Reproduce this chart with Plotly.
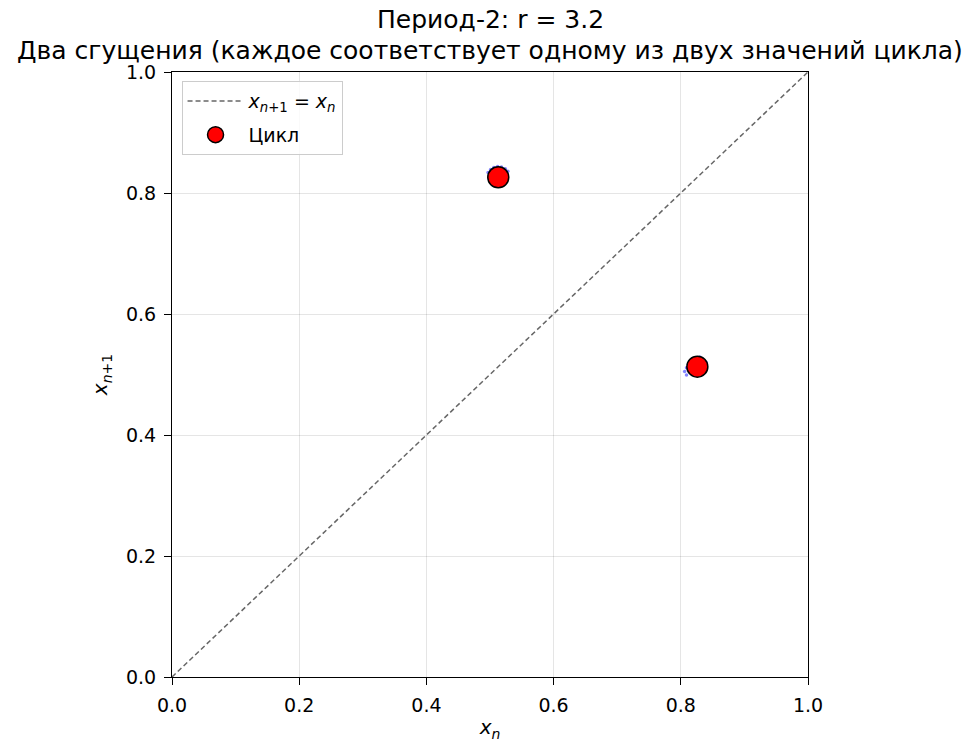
import plotly.graph_objects as go

cycle_x = [0.513, 0.826]
cycle_y = [0.826, 0.513]
# faint blue trajectory points around the two clusters
traj_x = [0.497, 0.501, 0.506, 0.512, 0.518, 0.524, 0.528, 0.513, 0.520,
          0.806, 0.809, 0.812, 0.818, 0.824, 0.830, 0.809, 0.826, 0.840]
traj_y = [0.834, 0.839, 0.842, 0.844, 0.843, 0.840, 0.836, 0.826, 0.830,
          0.505, 0.511, 0.517, 0.523, 0.527, 0.529, 0.499, 0.513, 0.520]
diag = [0.0, 1.0]
ticks = [0.0, 0.2, 0.4, 0.6, 0.8, 1.0]
tick_labels = ["0.0", "0.2", "0.4", "0.6", "0.8", "1.0"]
title_lines = ["Период-2: r = 3.2",
               "Два сгущения (каждое соответствует одному из двух значений цикла)"]

fig = go.Figure()
fig.add_trace(go.Scatter(x=diag, y=diag, mode="lines", legendgroup="a",
                         line=dict(color="rgba(0,0,0,0.6)", width=1.5, dash="5px,3px"),
                         name="<i>x</i><sub><i>n</i>+1</sub> = <i>x</i><sub><i>n</i></sub>"))
fig.add_trace(go.Scatter(x=traj_x, y=traj_y, mode="markers",
                         marker=dict(color="rgba(30,30,255,0.55)", size=3.5),
                         showlegend=False))
fig.add_trace(go.Scatter(x=cycle_x, y=cycle_y, mode="markers", legendgroup="b",
                         marker=dict(color="red", size=21, line=dict(color="black", width=1.5)),
                         name="Цикл"))

axis_common = dict(range=[0, 1], tickvals=ticks, ticktext=tick_labels,
                   showgrid=True, gridcolor="rgba(0,0,0,0.1)", gridwidth=1,
                   showline=True, linecolor="black", linewidth=1.2, mirror=True,
                   ticks="outside", ticklen=7, tickcolor="black", ticklabelstandoff=4,
                   tickfont=dict(size=19, color="black"), zeroline=False,
                   automargin=False)

fig.update_layout(
    width=970, height=740,
    paper_bgcolor="white", plot_bgcolor="white",
    font=dict(family="DejaVu Sans", color="black"),
    margin=dict(l=164, r=170, t=64, b=71),
    xaxis=dict(**axis_common,
               title=dict(text="<i>x</i><sub><i>n</i></sub>", font=dict(size=20), standoff=5)),
    yaxis=dict(**axis_common,
               title=dict(text="<i>x</i><sub><i>n</i>+1</sub>", font=dict(size=20), standoff=12)),
    legend=dict(x=0.015, y=0.985, xanchor="left", yanchor="top",
                bgcolor="rgba(255,255,255,0.8)", bordercolor="#cccccc", borderwidth=1,
                font=dict(size=19, color="black"), itemwidth=56, tracegroupgap=6,
                traceorder="grouped"),
    annotations=[
        dict(text=title_lines[0], x=0.5, y=1, xref="paper", yref="paper",
             xanchor="center", yanchor="middle", yshift=53, showarrow=False,
             font=dict(size=25, color="black")),
        dict(text=title_lines[1], x=0.5, y=1, xref="paper", yref="paper",
             xanchor="center", yanchor="middle", yshift=22, showarrow=False,
             font=dict(size=25, color="black")),
    ],
)

fig.write_html("out.html")
